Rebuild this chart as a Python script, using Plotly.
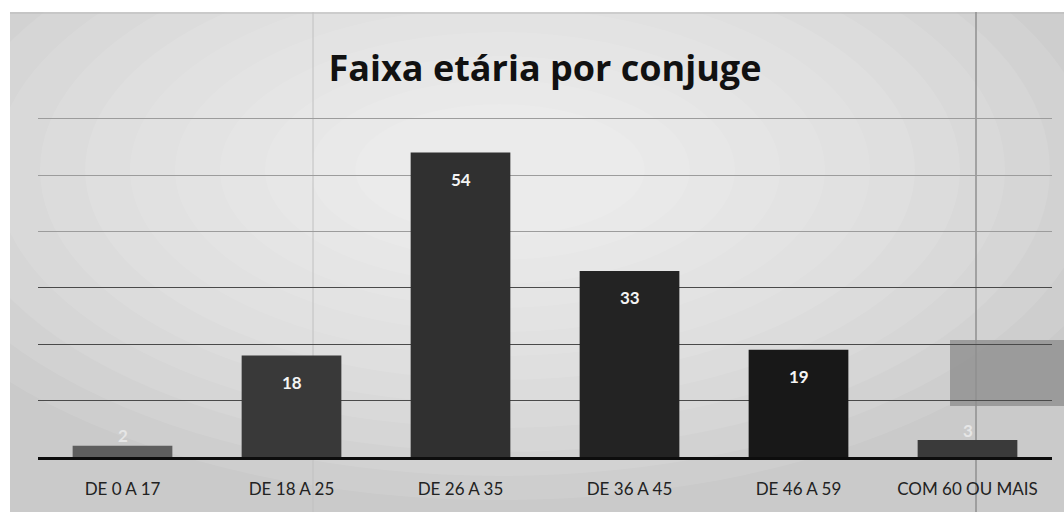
import plotly.graph_objects as go

# Age bands of spouses and their counts
categories = ["DE 0 A 17", "DE 18 A 25", "DE 26 A 35", "DE 36 A 45", "DE 46 A 59", "COM 60 OU MAIS"]
counts = [2, 18, 54, 33, 19, 3]
bar_colors = ["#5e5e5e", "#393939", "#303030", "#232323", "#181818", "#3a3a3a"]
title_text = "Faixa etária por conjuge"
strong_grid = [10, 20, 30]
faint_grid = [40, 50, 60]

W, H = 1064, 512
Y_MAX = 61
ML, MR, MB = 38, 12, 55
MT = round(H - MB - Y_MAX * 5.64)
PW, PH = W - ML - MR, H - MT - MB


def px_x(x):
    return (x - ML) / PW


def px_y(y):
    return (H - MB - y) / PH


fig = go.Figure()
fig.add_trace(go.Bar(
    x=categories,
    y=counts,
    marker=dict(color=bar_colors, line=dict(width=0)),
    hoverinfo="skip",
))
# invisible trace that carries the second y axis (darker lower gridlines)
fig.add_trace(go.Scatter(x=categories, y=counts, yaxis="y2", mode="markers",
                         marker=dict(opacity=0), hoverinfo="skip", showlegend=False))

# value labels: inside the top of tall bars, just above very short bars
annotations = []
for cat, val in zip(categories, counts):
    small = val < 5
    annotations.append(dict(
        x=cat, y=val, xref="x", yref="y",
        text=str(val), showarrow=False,
        yshift=10 if small else -27,
        font=dict(family="Lato", size=17, color="#e6e6e6" if small else "#f4f4f4", weight="bold"),
    ))

# scanned-paper background with a lighter centre
shapes = [
    dict(type="rect", xref="paper", yref="paper", layer="below",
         x0=px_x(10), x1=px_x(W), y0=px_y(H), y1=px_y(12),
         fillcolor="#cacaca", line=dict(width=0)),
]
cx, cy = 500, 170
for k in range(12):
    rx = 640 - k * 45
    ry = 330 - k * 24
    shapes.append(dict(type="circle", xref="paper", yref="paper", layer="below",
                       x0=px_x(cx - rx), x1=px_x(cx + rx), y0=px_y(cy + ry), y1=px_y(cy - ry),
                       fillcolor="white", opacity=0.09, line=dict(width=0)))
shapes.append(dict(type="line", xref="paper", yref="paper", layer="below",
                   x0=px_x(10), x1=px_x(W), y0=px_y(13), y1=px_y(13),
                   line=dict(color="#b8b8b8", width=1)))
# fold creases
shapes.append(dict(type="line", xref="paper", yref="paper", layer="below",
                   x0=px_x(313), x1=px_x(313), y0=px_y(H), y1=px_y(12),
                   line=dict(color="#c0c0c0", width=1)))
shapes.append(dict(type="line", xref="paper", yref="paper", layer="below",
                   x0=px_x(976), x1=px_x(976), y0=px_y(H), y1=px_y(12),
                   line=dict(color="#8f8f8f", width=1.5)))
# tape patch at the right edge
shapes.append(dict(type="rect", xref="paper", yref="paper", layer="between",
                   x0=px_x(950), x1=px_x(W), y0=px_y(406), y1=px_y(340),
                   fillcolor="#8e8e8e", opacity=0.8, line=dict(width=0)))

fig.update_layout(
    width=W, height=H,
    margin=dict(l=ML, r=MR, t=MT, b=MB),
    paper_bgcolor="white",
    plot_bgcolor="rgba(0,0,0,0)",
    bargap=0.41,
    showlegend=False,
    title=dict(text=title_text, x=545 / W, xanchor="center", y=1 - 68 / H, yanchor="middle",
               font=dict(family="Open Sans", size=36, color="#111111", weight="bold")),
    xaxis=dict(
        showline=True, linecolor="#0d0d0d", linewidth=3, ticks="",
        showgrid=False, zeroline=False,
        tickfont=dict(family="Lato", size=17, color="#222222"),
        ticklabelstandoff=15,
    ),
    yaxis=dict(
        range=[0, Y_MAX], tickmode="array", tickvals=faint_grid, showticklabels=False, ticks="",
        showgrid=True, gridcolor="#9c9c9c", gridwidth=1, zeroline=False,
    ),
    yaxis2=dict(
        range=[0, Y_MAX], overlaying="y", tickmode="array", tickvals=strong_grid,
        showticklabels=False, ticks="",
        showgrid=True, gridcolor="#4a4a4a", gridwidth=1.2, zeroline=False,
    ),
    shapes=shapes,
    annotations=annotations,
)

fig.write_html("out.html")
